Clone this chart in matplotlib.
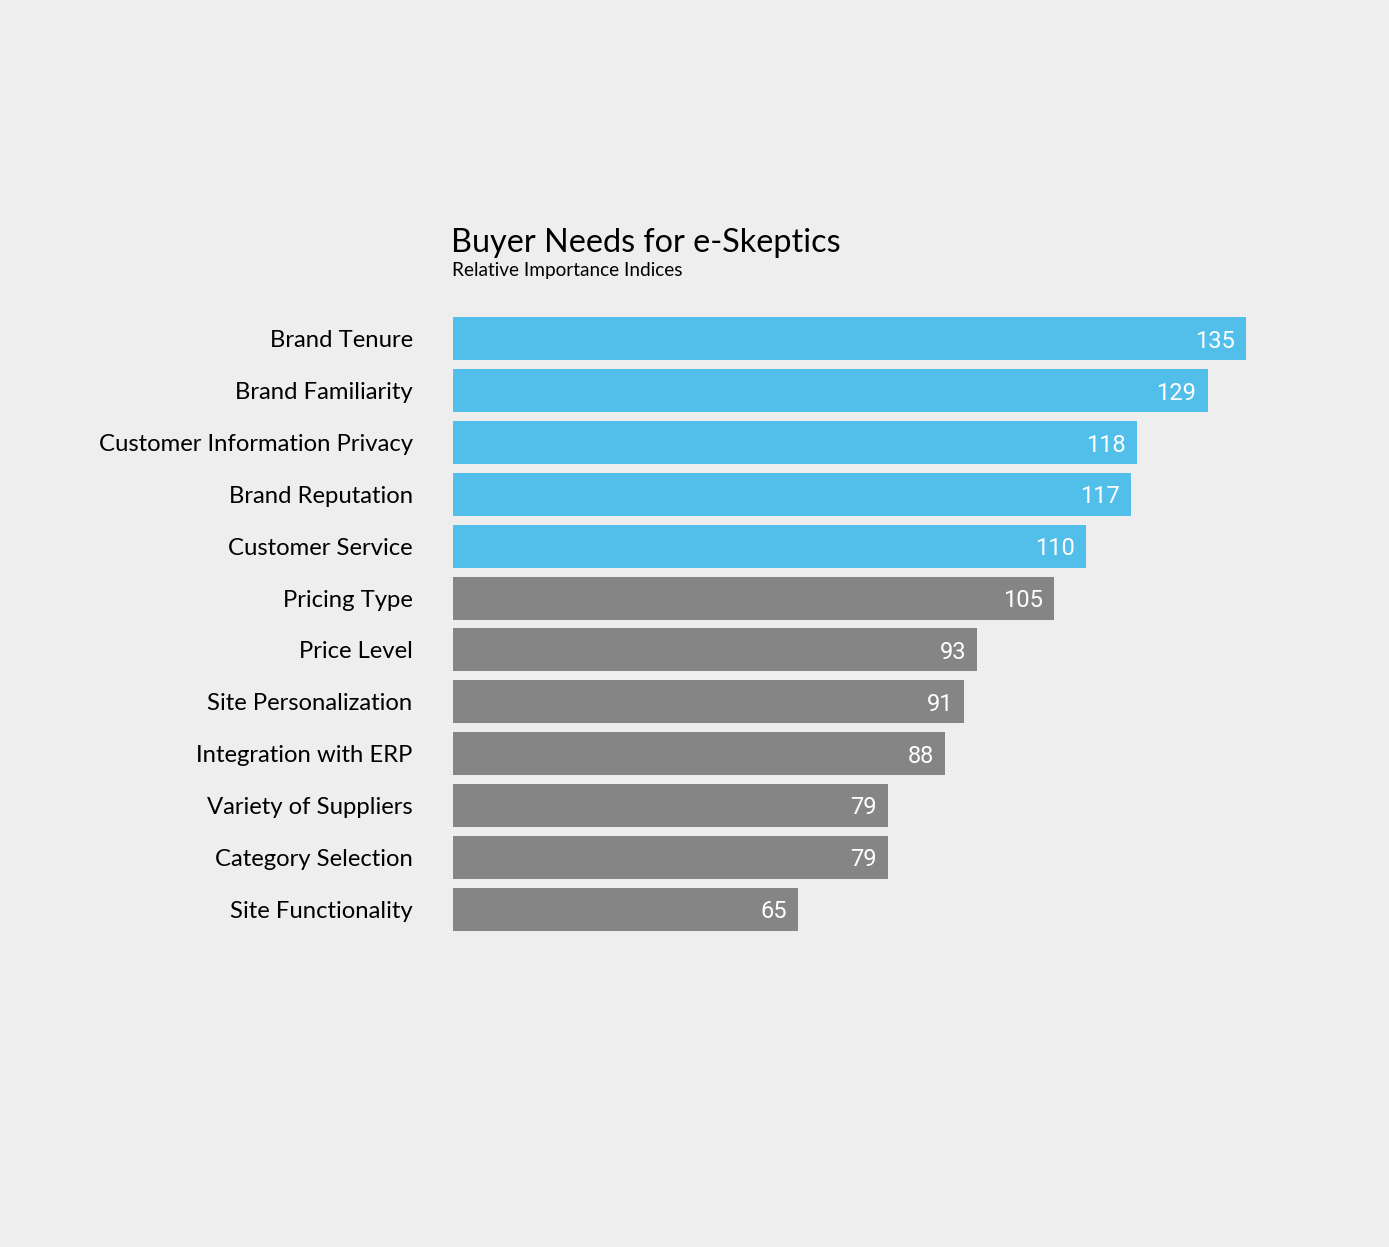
import matplotlib
matplotlib.use("Agg")
from matplotlib import pyplot as plt

# dados
categorias = ["Brand Tenure", "Brand Familiarity", "Customer Information Privacy",
              "Brand Reputation", "Customer Service", "Pricing Type", "Price Level",
              "Site Personalization", "Integration with ERP", "Variety of Suppliers",
              "Category Selection", "Site Functionality"]
valores = [135, 129, 118, 117, 110, 105, 93, 91, 88, 79, 79, 65]
destaque = 5  # os 5 primeiros em azul

azul = "#52BEEA"
cinza = "#858585"
fundo = "#EEEEEE"
fonte_txt = ["Lato", "DejaVu Sans"]

fig = plt.figure(figsize=(13.89, 12.47), dpi=100, facecolor=fundo)
ax = fig.add_axes([0.3261, 0.2502, 0.897 - 0.3261, 0.749 - 0.2502])
ax.set_facecolor(fundo)

cores = [azul if i < destaque else cinza for i in range(len(valores))]
y = list(range(len(valores)))
ax.barh(y, valores, height=0.83, color=cores)

ax.set_xlim(11.1, 135)
ax.set_ylim(len(valores) - 0.5, -0.5)

for i, v in enumerate(valores):
    ax.annotate(str(v), xy=(v, i), xytext=(-8, 0), textcoords="offset points",
                ha="right", va="center_baseline", color="white", fontsize=17,
                family="Roboto")

ax.set_yticks(y)
ax.set_yticklabels(categorias, fontsize=17.2, family=fonte_txt)
for t in ax.get_yticklabels():
    t.set_verticalalignment("center_baseline")
ax.tick_params(axis="y", length=0, pad=29)
ax.set_xticks([])
for s in ax.spines.values():
    s.set_visible(False)

fig.text(0.3247, 1 - 252 / 1247, "Buyer Needs for e-Skeptics", fontsize=23.3,
         family=fonte_txt, va="baseline", ha="left")
fig.text(0.3254, 1 - 276 / 1247, "Relative Importance Indices", fontsize=13.7,
         family=fonte_txt, va="baseline", ha="left")

plt.savefig("out.png", facecolor=fundo)
